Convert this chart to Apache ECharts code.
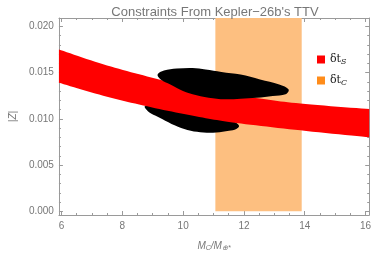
<!DOCTYPE html>
<html>
<head>
<meta charset="utf-8">
<script src="https://cdn.jsdelivr.net/npm/echarts@6/dist/echarts.min.js"></script>
<style>html,body{margin:0;padding:0;background:#fff}#c{width:374px;height:257px}</style>
</head>
<body>
<div id="c"></div>
<script>
// ---- data ----
const xMajorTicks = [6, 8, 10, 12, 14, 16];
const xMinorTicks = [6.5, 7, 7.5, 8.5, 9, 9.5, 10.5, 11, 11.5, 12.5, 13, 13.5, 14.5, 15, 15.5];
const yMajorTicks = [0, 0.005, 0.010, 0.015, 0.020];
const yMinorTicks = [0.001, 0.002, 0.003, 0.004, 0.006, 0.007, 0.008, 0.009, 0.011, 0.012, 0.013, 0.014, 0.016, 0.017, 0.018, 0.019];

// red band (delta t_S) edges
const bandUpperX = [5.915, 7.37, 8.95, 10.53, 12.39, 13.86, 16.12];
const bandUpperY = [0.0175, 0.0159, 0.01447, 0.0132, 0.01225, 0.01165, 0.01105];
const bandLowerX = [5.915, 7.37, 8.95, 10.53, 11.76, 13.86, 16.12];
const bandLowerY = [0.01390, 0.0125, 0.01125, 0.0102, 0.00955, 0.00875, 0.00800];

// orange band (delta t_C) x-range
const orangeRange = [11.06, 13.9];

// black regions
const upperBlobX = [9.16, 9.37, 9.79, 10.31, 10.74, 11.26, 11.89, 12.53, 13.16, 13.47, 13.37, 12.95, 12.42, 11.89, 11.37, 10.84, 10.31, 9.89, 9.58, 9.26];
const upperBlobY = [0.01479, 0.01522, 0.01543, 0.01550, 0.01533, 0.01507, 0.01479, 0.01426, 0.01372, 0.01318, 0.01265, 0.01247, 0.01228, 0.01218, 0.01211, 0.01228, 0.01265, 0.01318, 0.01372, 0.01426];
const lowerBlobX = [8.74, 9.20, 9.83, 10.46, 11.09, 11.62, 11.84, 11.75, 11.51, 11.09, 10.67, 10.25, 9.83, 9.41, 9.08, 8.85];
const lowerBlobY = [0.01135, 0.0113, 0.0110, 0.0106, 0.0102, 0.0098, 0.00925, 0.00890, 0.00870, 0.00852, 0.00852, 0.00870, 0.00915, 0.00980, 0.01035, 0.01080];

const xMin = 5.915, xMax = 16.12, yMin = -0.0004, yMax = 0.0209;

// ---- chart ----
const gray = '#9a9a9a';
const labelGray = '#777';
const font = 'Liberation Sans';

function zip(xs, ys) { return xs.map((x, i) => [x, ys[i]]); }

// Catmull-Rom smoothing of an open pixel polyline (rendering only)
function smoothOpen(pts, steps) {
  const out = [];
  for (let i = 0; i < pts.length - 1; i++) {
    const p0 = pts[Math.max(0, i - 1)], p1 = pts[i], p2 = pts[i + 1], p3 = pts[Math.min(pts.length - 1, i + 2)];
    for (let s = 0; s < steps; s++) {
      const t = s / steps, t2 = t * t, t3 = t2 * t;
      out.push([0, 1].map(k => 0.5 * ((2 * p1[k]) + (-p0[k] + p2[k]) * t + (2 * p0[k] - 5 * p1[k] + 4 * p2[k] - p3[k]) * t2 + (-p0[k] + 3 * p1[k] - 3 * p2[k] + p3[k]) * t3)));
    }
  }
  out.push(pts[pts.length - 1]);
  return out;
}

function polyRender(points, color, smooth) {
  return function (params, api) {
    if (params.dataIndex > 0) return;
    const pts = points.map(p => api.coord(p));
    return { type: 'polygon', shape: { points: pts, smooth: smooth }, style: { fill: color } };
  };
}

function mkX(pos, values, len, showLabel, showLine, name) {
  const a = {
    type: 'value', position: pos, min: xMin, max: xMax, gridIndex: 0,
    axisLine: { show: showLine, onZero: false, lineStyle: { color: gray, width: 1 } },
    axisTick: { show: true, inside: true, length: len, customValues: values, lineStyle: { color: gray } },
    axisLabel: { show: showLabel, customValues: values, color: labelGray, fontSize: 10, fontFamily: font, margin: 6 },
    splitLine: { show: false }
  };
  if (name) {
    a.name = name.text; a.nameLocation = 'middle'; a.nameGap = 25;
    a.nameTextStyle = name.style;
  }
  return a;
}
function mkY(pos, values, len, showLabel, showLine, name) {
  const a = {
    type: 'value', position: pos, min: yMin, max: yMax, gridIndex: 0,
    axisLine: { show: showLine, onZero: false, lineStyle: { color: gray, width: 1 } },
    axisTick: { show: true, inside: true, length: len, customValues: values, lineStyle: { color: gray } },
    axisLabel: { show: showLabel, customValues: values, color: labelGray, fontSize: 10, fontFamily: font, margin: 5,
      formatter: v => v.toFixed(3) },
    splitLine: { show: false }
  };
  if (name) {
    a.name = name.text; a.nameLocation = 'middle'; a.nameGap = 40; a.nameRotate = 90;
    a.nameTextStyle = name.style;
  }
  return a;
}

const chart = echarts.init(document.getElementById('c'), null, { renderer: 'canvas' });
chart.setOption({
  animation: false,
  backgroundColor: '#fff',
  title: {
    text: 'Constraints From Kepler\u221226b\'s TTV',
    left: 210, top: 1, textAlign: 'center',
    textStyle: { color: '#777', fontSize: 13, fontWeight: 'normal', fontFamily: font }
  },
  legend: {
    orient: 'vertical', left: 312, top: 49,
    itemWidth: 8, itemHeight: 8, itemGap: 9,
    icon: 'rect',
    data: ['dS', 'dC'],
    formatter: n => n === 'dS' ? '{d|\u03b4t}{s|S}' : '{d|\u03b4t}{s|C}',
    textStyle: {
      rich: {
        d: { fontFamily: 'DejaVu Serif', fontSize: 11, color: '#222' },
        s: { fontFamily: 'DejaVu Serif', fontSize: 8, color: '#222', fontStyle: 'italic', padding: [5, 0, 0, 0] }
      }
    }
  },
  grid: { left: 49, right: 2, top: 18, bottom: 40, containLabel: false },
  xAxis: [
    mkX('bottom', xMajorTicks, 4, true, true, {
      text: '{m|M}{s|C}{m|/M}{s|\u2295*}',
      style: { rich: {
        m: { fontFamily: font, fontStyle: 'italic', fontSize: 10, color: labelGray },
        s: { fontFamily: font, fontStyle: 'italic', fontSize: 7, color: labelGray, padding: [5, 0, 0, 0] }
      } }
    }),
    mkX('bottom', xMinorTicks, 2, false, false),
    mkX('top', xMajorTicks, 4, false, true),
    mkX('top', xMinorTicks, 2, false, false)
  ],
  yAxis: [
    mkY('left', yMajorTicks, 4, true, true, {
      text: '|Z|',
      style: { fontFamily: font, fontStyle: 'italic', fontSize: 10, color: labelGray }
    }),
    mkY('left', yMinorTicks, 2, false, false),
    mkY('right', yMajorTicks, 4, false, true),
    mkY('right', yMinorTicks, 2, false, false)
  ],
  series: [
    {
      name: 'dC', type: 'custom', xAxisIndex: 0, yAxisIndex: 0,
      itemStyle: { color: '#ff8c1a' },
      data: [orangeRange],
      renderItem: function (params, api) {
        const p0 = api.coord([api.value(0), 0]);
        const p1 = api.coord([api.value(1), 0]);
        const top = params.coordSys.y;
        return { type: 'rect', shape: { x: p0[0], y: top, width: p1[0] - p0[0], height: p0[1] - top },
          style: { fill: '#fdbf80' } };
      }
    },
    {
      name: 'lower', type: 'custom',
      data: zip(lowerBlobX, lowerBlobY),
      renderItem: polyRender(zip(lowerBlobX, lowerBlobY), '#000', 0.35)
    },
    {
      name: 'dS', type: 'custom',
      itemStyle: { color: '#ff0000' },
      data: zip(bandUpperX, bandUpperY),
      renderItem: function (params, api) {
        if (params.dataIndex > 0) return;
        const up = smoothOpen(zip(bandUpperX, bandUpperY).map(p => api.coord(p)), 12);
        const lo = smoothOpen(zip(bandLowerX, bandLowerY).map(p => api.coord(p)), 12);
        return { type: 'polygon', shape: { points: up.concat(lo.reverse()) }, style: { fill: '#ff0000' } };
      }
    },
    {
      name: 'upper', type: 'custom',
      data: zip(upperBlobX, upperBlobY),
      renderItem: polyRender(zip(upperBlobX, upperBlobY), '#000', 0.35)
    }
  ]
});
</script>
</body>
</html>
